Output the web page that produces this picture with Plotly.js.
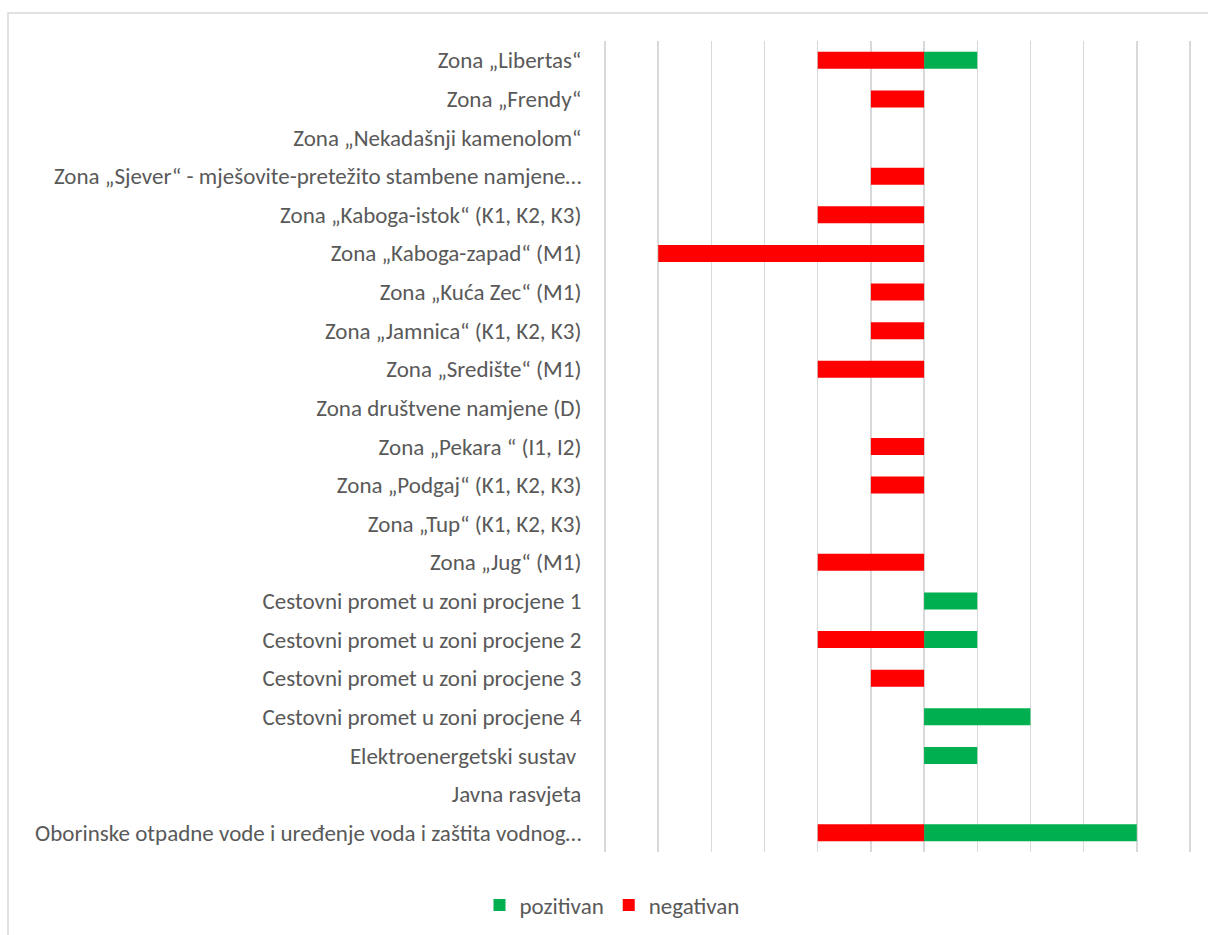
<!DOCTYPE html>
<html>
<head>
<meta charset="utf-8">
<script src="https://cdn.plot.ly/plotly-3.0.1.min.js"></script>
<style>html,body{margin:0;padding:0;background:#fff;}#chart{width:1208px;height:935px;}</style>
</head>
<body>
<div id="chart"></div>
<script>
const categories = [
  "Zona „Libertas“",
  "Zona „Frendy“",
  "Zona „Nekadašnji kamenolom“",
  "Zona „Sjever“ - mješovite-pretežito stambene namjene…",
  "Zona „Kaboga-istok“ (K1, K2, K3)",
  "Zona „Kaboga-zapad“ (M1)",
  "Zona „Kuća Zec“ (M1)",
  "Zona „Jamnica“ (K1, K2, K3)",
  "Zona „Središte“ (M1)",
  "Zona društvene namjene (D)",
  "Zona „Pekara “ (I1, I2)",
  "Zona „Podgaj“ (K1, K2, K3)",
  "Zona „Tup“ (K1, K2, K3)",
  "Zona „Jug“ (M1)",
  "Cestovni promet u zoni procjene 1",
  "Cestovni promet u zoni procjene 2",
  "Cestovni promet u zoni procjene 3",
  "Cestovni promet u zoni procjene 4",
  "Elektroenergetski sustav ",
  "Javna rasvjeta",
  "Oborinske otpadne vode i uređenje voda i zaštita vodnog…"
];
const pozitivan = [1,0,0,0,0,0,0,0,0,0,0,0,0,0,1,1,0,2,1,0,4];
const negativan = [-2,-1,0,-1,-2,-5,-1,-1,-2,0,-1,-1,0,-2,0,-2,-1,0,0,0,-2];

const pxL = 604, pxR = 1191, pyT = 41, pyB = 852;
const W = 1208, H = 935;
const toPX = x => (x - pxL) / (pxR - pxL);
const toPY = y => (pyB - y) / (pyB - pyT);

const traces = [
  {type:'bar', orientation:'h', name:'pozitivan', y:categories, x:pozitivan,
   marker:{color:'#00B050', line:{width:0}}},
  {type:'bar', orientation:'h', name:'negativan', y:categories, x:negativan,
   marker:{color:'#FF0000', line:{width:0}}}
];

const fam = 'Carlito, Lato, "Open Sans", sans-serif';
const layout = {
  width: W, height: H,
  margin: {l: pxL, r: W - pxR, t: pyT, b: H - pyB, pad: 0},
  paper_bgcolor: '#ffffff', plot_bgcolor: '#ffffff',
  barmode: 'relative',
  bargap: 0.56,
  font: {family: fam, size: 23, color: '#595959'},
  xaxis: {range: [-6.02, 5.02], dtick: 1, tick0: 0, showticklabels: false,
          showgrid: true, gridcolor: '#d9d9d9', gridwidth: 1.5,
          zeroline: false, showline: false, fixedrange: true},
  yaxis: {autorange: 'reversed', showgrid: false, zeroline: false,
          showline: false, ticks: 'outside', ticklen: 17,
          tickcolor: 'rgba(0,0,0,0)', tickfont: {family: fam, size: 23, color: '#595959'}},
  showlegend: true,
  legend: {orientation: 'h', xref: 'container', yref: 'container',
           x: 612 / W, xanchor: 'center', y: 1 - 905 / H, yanchor: 'middle',
           font: {family: fam, size: 23, color: '#595959'}, traceorder: 'normal',
           itemwidth: 30},
  shapes: [
    {type: 'rect', xref: 'paper', yref: 'paper',
     x0: toPX(8), x1: toPX(1230), y0: toPY(13), y1: toPY(960),
     line: {color: '#d9d9d9', width: 1.5}, fillcolor: 'rgba(0,0,0,0)', layer: 'below'}
  ]
};

Plotly.newPlot('chart', traces, layout, {displayModeBar: false, staticPlot: true});
</script>
</body>
</html>
